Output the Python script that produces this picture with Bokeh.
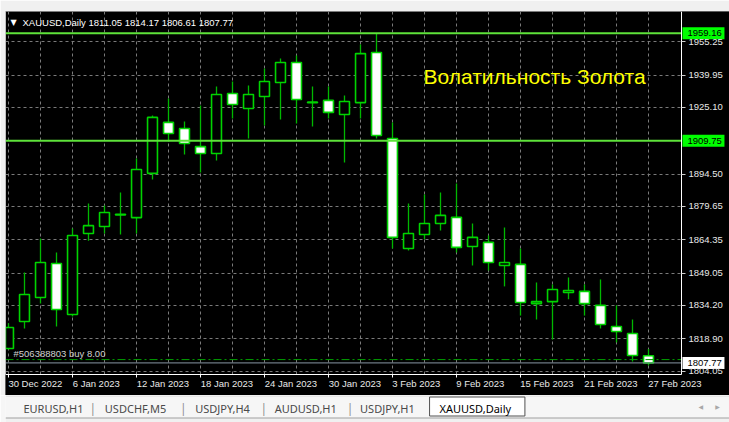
from bokeh.plotting import figure
from bokeh.models import Range1d, LinearAxis, FixedTicker, Label, ColumnDataSource
from bokeh.layouts import column
from bokeh.embed import file_html
from bokeh.resources import INLINE
from bokeh.core.properties import value

# ---------------- data ----------------
dates = ["30 Dec 2022", "3 Jan 2023", "4 Jan 2023", "5 Jan 2023", "6 Jan 2023",
         "9 Jan 2023", "10 Jan 2023", "11 Jan 2023", "12 Jan 2023", "13 Jan 2023",
         "16 Jan 2023", "17 Jan 2023", "18 Jan 2023", "19 Jan 2023", "20 Jan 2023",
         "23 Jan 2023", "24 Jan 2023", "25 Jan 2023", "26 Jan 2023", "27 Jan 2023",
         "30 Jan 2023", "31 Jan 2023", "1 Feb 2023", "2 Feb 2023", "3 Feb 2023",
         "6 Feb 2023", "7 Feb 2023", "8 Feb 2023", "9 Feb 2023", "10 Feb 2023",
         "13 Feb 2023", "14 Feb 2023", "15 Feb 2023", "16 Feb 2023", "17 Feb 2023",
         "20 Feb 2023", "21 Feb 2023", "22 Feb 2023", "23 Feb 2023", "24 Feb 2023",
         "27 Feb 2023"]
opens = [1814.4, 1826.8, 1837.8, 1853.4, 1830.0, 1867.2, 1870.4, 1875.7, 1874.5, 1894.8,
         1918.2, 1915.4, 1907.1, 1903.9, 1931.5, 1924.6, 1930.1, 1936.5, 1945.7, 1927.5,
         1928.3, 1921.8, 1927.3, 1950.3, 1910.8, 1860.3, 1866.7, 1871.8, 1874.6, 1861.2,
         1863.1, 1852.5, 1853.0, 1835.0, 1835.9, 1840.1, 1840.6, 1834.2, 1824.5, 1821.3,
         1811.05]
highs = [1826.0, 1849.3, 1864.9, 1858.5, 1869.5, 1881.0, 1880.0, 1886.0, 1901.6, 1921.4,
         1929.2, 1918.6, 1926.0, 1934.7, 1937.0, 1935.2, 1943.0, 1947.5, 1948.9, 1934.7,
         1934.7, 1930.6, 1954.0, 1959.16, 1918.2, 1881.0, 1885.1, 1886.0, 1890.2, 1871.8,
         1866.3, 1869.9, 1860.3, 1844.7, 1843.8, 1847.0, 1843.8, 1846.1, 1834.2, 1827.7,
         1814.17]
lows = [1813.9, 1823.6, 1835.0, 1824.5, 1829.1, 1863.9, 1867.2, 1866.7, 1867.2, 1892.0,
        1909.4, 1903.5, 1895.2, 1900.7, 1920.0, 1910.8, 1916.8, 1919.5, 1917.7, 1916.3,
        1920.0, 1899.8, 1920.0, 1910.8, 1860.3, 1859.4, 1864.5, 1868.6, 1858.5, 1852.5,
        1850.2, 1842.9, 1829.5, 1827.7, 1818.5, 1837.0, 1829.5, 1823.6, 1817.2, 1808.4,
        1806.61]
closes = [1824.0, 1839.2, 1853.9, 1832.3, 1866.3, 1870.8, 1876.8, 1876.0, 1896.6, 1920.5,
          1913.1, 1908.5, 1903.9, 1931.0, 1926.4, 1931.0, 1937.0, 1945.7, 1928.7, 1927.2,
          1922.8, 1927.8, 1949.8, 1912.2, 1865.4, 1867.2, 1871.8, 1875.5, 1860.8, 1865.4,
          1853.9, 1853.9, 1835.5, 1835.9, 1841.5, 1841.0, 1835.0, 1825.4, 1822.2, 1811.2,
          1807.77]
price_ticks = [1955.25, 1939.95, 1925.10, 1894.50, 1879.65, 1864.35,
               1849.05, 1834.20, 1818.90, 1804.05]
level_lines = [1959.16, 1909.75]
bid_price = 1807.77
order_price = 1809.3
order_text = "#506388803 buy 8.00"
symbol = "XAUUSD,Daily"
title_text = "Волатильность Золота"
tabs = ["EURUSD,H1", "USDCHF,M5", "USDJPY,H4", "AUDUSD,H1", "USDJPY,H1", "XAUUSD,Daily"]

# ---------------- styles ----------------
FONT = "Liberation Sans"
FS = "9.5px"
FG = "#e8e8e8"
WICK = "#00b800"
EDGE = "#00d400"
LEVEL = "#5ee23a"
GRID = "#7a7a7a"
CHROME = "#f0f0f0"

W = 729
HA = 395
HT = 27

# ranges (frame spans the whole black area)
x_start, x_end = -0.1875, 45.0625
x_chart_right = 42.06
y_start, y_end = 1792.81, 1969.12
y_chart_bottom = 1802.46

# Arial-like advance widths (em) used to left-align date labels on the tick
EM = {" ": 0.278, "D": 0.722, "J": 0.5, "F": 0.611, "e": 0.556, "c": 0.5, "a": 0.556,
      "n": 0.556, "b": 0.556}
NBSP = "\u00a0"


def left_on_tick(s):
    w = sum(EM.get(ch, 0.556) for ch in s)
    return NBSP * int(round(w / 0.278)) + s


p = figure(width=W, height=HA, x_range=Range1d(x_start, x_end), y_range=Range1d(y_start, y_end),
           output_backend="svg", toolbar_location=None, y_axis_location="right",
           background_fill_color="black", border_fill_color=CHROME, outline_line_color=None,
           min_border_left=5, min_border_top=11, min_border_right=0, min_border_bottom=0)

# bottom (date) axis, fixed on the chart's bottom edge
xa = p.xaxis[0]
xa.fixed_location = y_chart_bottom
xa.bounds = (x_start, x_chart_right)
xa.ticker = FixedTicker(ticks=list(range(0, len(dates), 4)), minor_ticks=list(range(2, len(dates), 4)))
xa.major_label_overrides = {i: (NBSP * 3 + dates[i] if i == 0 else left_on_tick(dates[i]))
                            for i in range(0, len(dates), 4)}
xa.major_label_text_font = FONT
xa.major_label_text_font_size = FS
xa.major_label_text_color = FG
xa.major_label_standoff = 1
xa.major_tick_out = 3
xa.major_tick_in = 0
xa.minor_tick_out = 0
xa.minor_tick_in = 0
xa.axis_line_color = "white"
xa.major_tick_line_color = "white"

# right (price) axis, fixed on the chart's right edge
ya = p.yaxis[0]
ya.fixed_location = x_chart_right
ya.bounds = (y_chart_bottom, y_end)
ya.ticker = FixedTicker(ticks=price_ticks)
ya.major_label_overrides = {v: f"{v:.2f}" for v in price_ticks}
ya.major_label_text_font = FONT
ya.major_label_text_font_size = FS
ya.major_label_text_color = FG
ya.major_label_standoff = 3
ya.major_tick_out = 4
ya.major_tick_in = 0
ya.minor_tick_out = 0
ya.minor_tick_in = 0
ya.axis_line_color = "white"
ya.major_tick_line_color = "#cfcfcf"

# left frame line
la = LinearAxis(ticker=FixedTicker(ticks=[]), axis_line_color="white", fixed_location=x_start,
                bounds=(y_chart_bottom, y_end),
                major_tick_out=0, major_tick_in=0, minor_tick_out=0, minor_tick_in=0,
                major_label_standoff=0)
p.add_layout(la, "left")

# grids
xg = p.xgrid[0]
yg = p.ygrid[0]
xg.grid_line_color = GRID
xg.grid_line_dash = "3 3"
xg.minor_grid_line_color = GRID
xg.minor_grid_line_dash = "3 3"
yg.grid_line_color = GRID
yg.grid_line_dash = "3 3"
if "cross_bounds" in xg.properties():
    xg.cross_bounds = (y_chart_bottom, y_end)
    yg.cross_bounds = (x_start, x_chart_right)

# black strips (price-label column and date-label row) over the grid
p.quad(left=[x_chart_right, x_start], right=[x_end, x_chart_right],
       bottom=[y_start, y_start], top=[y_end, y_chart_bottom],
       fill_color="black", line_color=None)

# candles
idx = list(range(len(opens)))
src = ColumnDataSource(dict(
    x=idx, h=highs, l=lows,
    top=[max(o, c) for o, c in zip(opens, closes)],
    bot=[min(o, c) for o, c in zip(opens, closes)],
    fill=["black" if c >= o else "white" for o, c in zip(opens, closes)],
))
p.segment(x0="x", y0="h", x1="x", y1="l", source=src, line_color=WICK, line_width=1.3)
p.vbar(x="x", width=0.62, top="top", bottom="bot", fill_color="fill",
       line_color=EDGE, line_width=1.6, source=src)

# horizontal lines (stop at the chart's right edge)
n = len(level_lines)
p.segment(x0=[x_start] * n, x1=[x_chart_right] * n, y0=level_lines, y1=level_lines,
          line_color=LEVEL, line_width=2)
p.segment(x0=[x_start], x1=[x_chart_right], y0=[order_price], y1=[order_price],
          line_color="#00a000", line_width=1, line_dash="8 3 2 3")
p.segment(x0=[x_start], x1=[x_chart_right], y0=[bid_price], y1=[bid_price],
          line_color="#8896a4", line_width=1)

# price boxes in the price column
box_x = x_chart_right + 1.375
p.rect(x=[box_x] * n, y=level_lines, width=42, height=12, width_units="screen",
       height_units="screen", fill_color="#00ff00", line_color=None)
p.rect(x=[box_x], y=[bid_price], width=42, height=12, width_units="screen",
       height_units="screen", fill_color="white", line_color=None)
p.text(x=[x_chart_right] * (n + 1), y=level_lines + [bid_price],
       text=[f"{v:.2f}" for v in level_lines + [bid_price]], x_offset=6,
       text_baseline="middle", text_font=value(FONT), text_font_size=FS, text_color="black")

# header
p.add_layout(Label(x=x_start, y=y_end, x_offset=5, y_offset=-11, text="▼", text_baseline="middle",
                   text_font="DejaVu Sans", text_font_size="8px", text_color="white"))
hdr = f"{symbol}  {opens[-1]:.2f} {highs[-1]:.2f} {lows[-1]:.2f} {closes[-1]:.2f}"
p.add_layout(Label(x=x_start, y=y_end, x_offset=17, y_offset=-11, text=hdr, text_baseline="middle",
                   text_font=FONT, text_font_size=FS, text_color="white"))

# order text
p.add_layout(Label(x=x_start, y=order_price, x_offset=8, y_offset=1, text=order_text,
                   text_baseline="bottom", text_font=FONT, text_font_size=FS,
                   text_color="#d0d0d0"))

# title
p.add_layout(Label(x=25.94, y=1939.3, text=title_text, text_baseline="middle",
                   text_font=FONT, text_font_size="21px", text_color="#ffff00"))

# ---------------- tab bar ----------------
t = figure(width=W, height=HT, x_range=Range1d(0, W), y_range=Range1d(0, HT),
           output_backend="svg", toolbar_location=None, x_axis_type=None, y_axis_type=None,
           background_fill_color="#f6f6f6", border_fill_color="#f6f6f6", outline_line_color=None,
           min_border=0)
t.grid.visible = False
tab_x = [18, 100, 191, 271, 357, 437]
sep_x = [88, 179, 260, 347]
t.quad(left=[0], right=[W], top=[4.5], bottom=[0], fill_color=CHROME, line_color=None)
t.segment(x0=[0], y0=[4.5], x1=[W], y1=[4.5], line_color="#a0a0a0", line_width=1)
t.segment(x0=[0], y0=[26.5], x1=[W], y1=[26.5], line_color="#d8d8d8", line_width=1)
t.quad(left=[427], right=[523], top=[25.5], bottom=[6.5], fill_color="white",
       line_color="#505050", line_width=1)
t.text(x=tab_x[:-1], y=[14] * (len(tabs) - 1), text=tabs[:-1], text_baseline="middle",
       text_font=value("Noto Sans"), text_font_size="11px", text_color="#4a4a4a")
t.text(x=[tab_x[-1]], y=[14], text=[tabs[-1]], text_baseline="middle",
       text_font=value("Noto Sans"), text_font_size="11px", text_color="#000000")
t.text(x=sep_x, y=[14] * len(sep_x), text=["|"] * len(sep_x), text_baseline="middle",
       text_align="center", text_font=value("Noto Sans"), text_font_size="12px",
       text_color="#909090")
t.text(x=[700, 717], y=[16, 16], text=["◀", "▶"], text_baseline="middle", text_align="center",
       text_font=value("DejaVu Sans"), text_font_size="6px", text_color="#a8a8a8")

layout = column(p, t, spacing=0)
open("out.html", "w").write(file_html(layout, INLINE))
